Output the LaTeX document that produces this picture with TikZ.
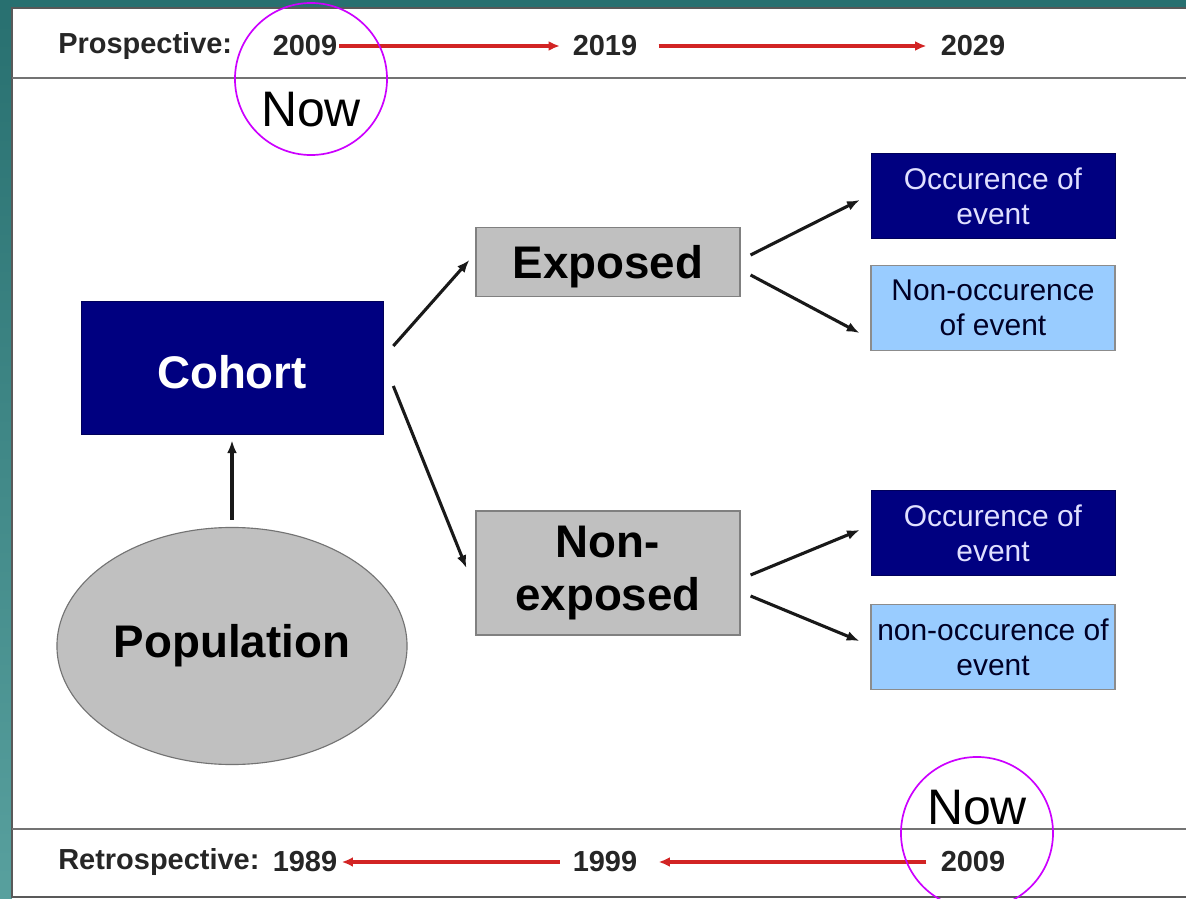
\documentclass[tikz,border=0pt]{standalone}
\usepackage{fontspec}
\setmainfont{Liberation Sans}
\usepackage{tikz}
\usetikzlibrary{positioning, arrows.meta, shapes.geometric}
\usepackage{xcolor}

\definecolor{slideteal}{RGB}{40,112,112}
\definecolor{slidetealpale}{RGB}{88,160,158}
\definecolor{navybox}{RGB}{0,0,128}
\definecolor{greybox}{RGB}{192,192,192}
\definecolor{paleblue}{RGB}{153,204,255}
\definecolor{timered}{RGB}{210,36,36}
\definecolor{ringpurple}{RGB}{204,0,255}

% drop a label a little inside its box
\newcommand{\lowered}[1]{\raisebox{-3pt}[\height][\depth]{#1}}

\begin{document}
\begin{tikzpicture}[
    x=0.025cm, y=-0.025cm,
    frame/.style={draw=black!65, line width=1.5pt},
    cohortbox/.style={fill=navybox, draw=navybox!70!black, inner sep=0pt,
                      minimum width=7.55cm, minimum height=3.325cm,
                      text=white, font=\fontsize{32.5}{38}\selectfont\bfseries},
    groupbox/.style={fill=greybox, draw=black!50, line width=0.8pt, inner sep=0pt,
                     minimum width=6.6cm, align=center,
                     font=\fontsize{32.5}{38}\selectfont\bfseries},
    eventbox/.style={fill=navybox, draw=navybox!70!black, inner sep=0pt,
                     minimum width=6.1cm, minimum height=2.12cm, align=center,
                     text=white!88!blue, font=\fontsize{21.3}{25}\selectfont},
    noeventbox/.style={eventbox, fill=paleblue, draw=black!45, line width=0.8pt, text=black!85!blue},
    popnode/.style={ellipse, fill=greybox, draw=black!55, line width=0.8pt, inner sep=0pt,
                    minimum width=8.75cm, minimum height=5.925cm,
                    font=\fontsize{32.5}{38}\selectfont\bfseries},
    year/.style={inner sep=0pt, font=\fontsize{20.6}{24}\selectfont\bfseries, text=black!85},
    arr/.style={-{Latex[length=9pt, width=7pt]}, line width=2.2pt, black!90},
    timearr/.style={-{Latex[length=8pt, width=7pt]}, line width=2.4pt, timered},
    nowring/.style={circle, draw=ringpurple, line width=1.2pt, minimum size=3.8cm, inner sep=0pt},
    nowtext/.style={inner sep=0pt, font=\fontsize{35.5}{40}\selectfont},
]
\useasboundingbox (0,0) rectangle (1186,899);

% slide background and frame
\fill[slideteal] (0,0) rectangle (1186,899);
\shade[top color=slideteal, bottom color=slidetealpale] (0,0) rectangle (12,899);
\fill[white] (12,8) rectangle (1186,899);
\draw[frame] (1186,8) -- (12,8) -- (12,897) -- (1186,897);
\draw[frame, black!55] (12,78) -- (1186,78);
\draw[frame, black!55] (12,829) -- (1186,829);

% Prospective time line
\node[year, anchor=west] (prosp) at (58,46) {Prospective:};
\node[year] (p2009) at (305,46) {2009};
\node[year] (p2019) at (605,46) {2019};
\node[year] (p2029) at (973,46) {2029};
\draw[timearr, shorten <=1pt, shorten >=9pt] (p2009) -- (p2019);
\draw[timearr, shorten <=15pt, shorten >=10pt] (p2019) -- (p2029);

% Retrospective time line
\node[year, anchor=west] (retro) at (58,862) {Retrospective:};
\node[year] (r1989) at (305,862) {1989};
\node[year] (r1999) at (605,862) {1999};
\node[year] (r2009) at (973,862) {2009};
\draw[timearr, shorten <=9pt, shorten >=3pt] (r1999) -- (r1989);
\draw[timearr, shorten <=10pt, shorten >=15pt] (r2009) -- (r1999);

% Cohort and population
\node[cohortbox] (cohort) at (232,368) {\lowered{Cohort}};
\node[popnode] (pop) at (232,646) {Population};
\draw[arr, shorten <=5pt, shorten >=4pt] (pop) -- (cohort);

% Exposure groups
\node[groupbox, minimum height=1.725cm] (exp) at (608,262) {\lowered{Exposed}};
\node[groupbox, minimum height=3.1cm] (nonexp) at (608,573) {Non-\\exposed};
\draw[arr] ([shift={(10,-22)}]cohort.east) -- ([shift={(-6,-2)}]exp.west);
\draw[arr] ([shift={(10,18)}]cohort.east) -- ([shift={(-9,-5)}]nonexp.west);

% Outcomes
\node[eventbox]   (occA)   at (993,196) {Occurence of\\event};
\node[noeventbox] (nonA)   at (993,308) {Non-occurence\\of event};
\node[eventbox]   (occB)   at (993,533) {Occurence of\\event};
\node[noeventbox] (nonB)   at (993,647) {non-occurence of\\event};
\draw[arr] ([shift={(10,-7)}]exp.east) -- ([shift={(-11,4)}]occA.west);
\draw[arr] ([shift={(10,13)}]exp.east) -- ([shift={(-11,25)}]nonA.west);
\draw[arr] ([shift={(10,2)}]nonexp.east) -- ([shift={(-11,-3)}]occB.west);
\draw[arr] ([shift={(10,23)}]nonexp.east) -- ([shift={(-11,-6)}]nonB.west);

% "Now" markers
\node[nowring] (ringtop) at (311,79) {};
\node[nowtext] (nowtop) at (311,110) {Now};
\node[nowring] (ringbot) at (977,833) {};
\node[nowtext] (nowbot) at (977,808) {Now};
\end{tikzpicture}
\end{document}
